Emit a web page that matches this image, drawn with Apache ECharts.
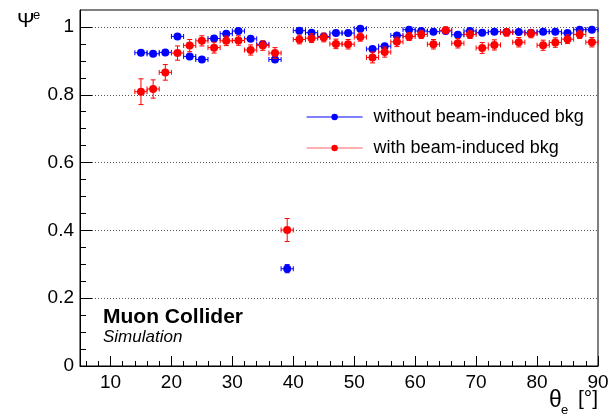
<!DOCTYPE html>
<html>
<head>
<meta charset="utf-8">
<script src="https://cdn.jsdelivr.net/npm/echarts@6/dist/echarts.min.js"></script>
<style>
html,body{margin:0;padding:0;background:#fff;}
#chart{width:609px;height:416px;}
</style>
</head>
<body>
<div id="chart"></div>
<script>
// ---- data ----
const angles = [15,17,19,21,23,25,27,29,31,33,35,37,39,41,43,45,47,49,51,53,55,57,59,61,63,65,67,69,71,73,75,77,79,81,83,85,87,89];
const halfBin = 1;
const effNoBkg = [0.924,0.921,0.925,0.972,0.913,0.904,0.966,0.980,0.988,0.965,0.949,0.904,0.287,0.989,0.983,0.972,0.982,0.982,0.995,0.935,0.943,0.975,0.992,0.988,0.986,0.988,0.977,0.988,0.983,0.986,0.985,0.985,0.983,0.986,0.986,0.982,0.992,0.992];
const errNoBkg = [0.007,0.007,0.007,0.005,0.007,0.007,0.005,0.005,0.004,0.006,0.006,0.007,0.012,0.004,0.005,0.005,0.005,0.005,0.003,0.006,0.006,0.005,0.004,0.004,0.004,0.004,0.005,0.004,0.004,0.004,0.004,0.004,0.004,0.004,0.004,0.004,0.003,0.003];
const effBkg = [0.809,0.817,0.866,0.923,0.945,0.959,0.939,0.959,0.960,0.932,0.945,0.923,0.401,0.963,0.967,0.969,0.950,0.949,0.970,0.910,0.926,0.956,0.972,0.978,0.949,0.990,0.952,0.978,0.938,0.947,0.984,0.955,0.980,0.946,0.954,0.964,0.978,0.955];
const errBkg = [0.038,0.027,0.023,0.021,0.018,0.015,0.016,0.014,0.014,0.015,0.014,0.016,0.034,0.013,0.013,0.013,0.014,0.014,0.012,0.016,0.015,0.014,0.012,0.012,0.014,0.010,0.014,0.012,0.016,0.015,0.011,0.014,0.012,0.015,0.014,0.013,0.012,0.014];
const xMajorTicks = [10,20,30,40,50,60,70,80,90];
const xMinorTicks = [6,8,12,14,16,18,22,24,26,28,32,34,36,38,42,44,46,48,52,54,56,58,62,64,66,68,72,74,76,78,82,84,86,88];
const yMajorTicks = [0,0.2,0.4,0.6,0.8,1.0];
const yMinorTicks = [0.05,0.1,0.15,0.25,0.3,0.35,0.45,0.5,0.55,0.65,0.7,0.75,0.85,0.9,0.95];
const nameNoBkg = 'without beam-induced bkg';
const nameBkg = 'with beam-induced bkg';

const BLUE = '#0000ff';
const RED = '#ff0000';
const FONT = 'Liberation Sans, Arial, Helvetica, sans-serif';

function pts(eff) { return angles.map((a, i) => [a, eff[i]]); }
function errPts(eff, err) { return angles.map((a, i) => [a, eff[i], err[i]]); }

function errRender(color) {
  return function (params, api) {
    const x = api.value(0), y = api.value(1), e = api.value(2);
    const pL = api.coord([x - halfBin, y]);
    const pR = api.coord([x + halfBin, y]);
    const pT = api.coord([x, y + e]);
    const pB = api.coord([x, y - e]);
    const c = 2.5;
    const st = { stroke: color, lineWidth: 1 };
    const ln = (x1, y1, x2, y2) => ({ type: 'line', shape: { x1, y1, x2, y2 }, style: st });
    return {
      type: 'group',
      children: [
        ln(pL[0], pL[1], pR[0], pR[1]),
        ln(pT[0], pT[1], pB[0], pB[1]),
        ln(pL[0], pL[1] - c, pL[0], pL[1] + c),
        ln(pR[0], pR[1] - c, pR[0], pR[1] + c),
        ln(pT[0] - c, pT[1], pT[0] + c, pT[1]),
        ln(pB[0] - c, pB[1], pB[0] + c, pB[1])
      ]
    };
  };
}

const chart = echarts.init(document.getElementById('chart'), null, { renderer: 'canvas' });
const gridRect = { left: 80, right: 11, top: 10, bottom: 50 };

chart.setOption({
  backgroundColor: '#ffffff',
  animation: false,
  textStyle: { fontFamily: FONT },
  grid: Object.assign({ show: true, borderColor: '#000', borderWidth: 1, backgroundColor: 'transparent', containLabel: false, outerBoundsMode: 'none' }, gridRect),
  legend: {
    orient: 'vertical',
    left: 301,
    top: 102,
    itemWidth: 56,
    itemHeight: 8,
    itemGap: 11,
    textStyle: { fontSize: 18, color: '#000', fontFamily: FONT, lineHeight: 20, padding: [0, 0, 0, 6] },
    data: [
      { name: nameNoBkg, lineStyle: { color: BLUE, width: 1.2, opacity: 1 }, itemStyle: { color: BLUE } },
      { name: nameBkg, lineStyle: { color: '#ff6060', width: 1.2, opacity: 1 }, itemStyle: { color: RED } }
    ]
  },
  xAxis: [
    {
      type: 'value', min: 5, max: 90, position: 'bottom',
      axisLine: { show: true, onZero: false, lineStyle: { color: '#000', width: 1 } },
      axisTick: { show: true, inside: true, length: 10, customValues: xMajorTicks, lineStyle: { color: '#000' } },
      axisLabel: { show: true, customValues: xMajorTicks, fontSize: 19, color: '#000', margin: 7, fontFamily: FONT },
      splitLine: { show: false }
    },
    {
      type: 'value', min: 5, max: 90, position: 'bottom',
      axisLine: { show: false },
      axisTick: { show: true, inside: true, length: 5, customValues: xMinorTicks, lineStyle: { color: '#000' } },
      axisLabel: { show: false, customValues: xMinorTicks },
      splitLine: { show: false }
    }
  ],
  yAxis: [
    {
      type: 'value', min: 0, max: 1.05, interval: 0.2, position: 'left',
      axisLine: { show: true, onZero: false, lineStyle: { color: '#000', width: 1 } },
      axisTick: { show: true, inside: true, length: 12, customValues: yMajorTicks, lineStyle: { color: '#000' } },
      axisLabel: { show: true, customValues: yMajorTicks, fontSize: 19, color: '#000', margin: 6, fontFamily: FONT,
        formatter: v => String(Math.round(v * 10) / 10) },
      splitLine: { show: true, lineStyle: { color: '#555', width: 1, type: [1, 2] } }
    },
    {
      type: 'value', min: 0, max: 1.05, position: 'left',
      axisLine: { show: false },
      axisTick: { show: true, inside: true, length: 6, customValues: yMinorTicks, lineStyle: { color: '#000' } },
      axisLabel: { show: false, customValues: yMinorTicks },
      splitLine: { show: false }
    }
  ],
  graphic: [
    { type: 'text', left: 17, top: 11, style: { text: 'Ψ', fontSize: 21, fill: '#000', fontFamily: FONT } },
    { type: 'text', left: 33, top: 9, style: { text: 'e', fontSize: 13, fill: '#000', fontFamily: FONT } },
    { type: 'text', left: 549, top: 389, style: { text: 'θ', fontSize: 23, fill: '#000', fontFamily: FONT } },
    { type: 'text', left: 561, top: 404, style: { text: 'e', fontSize: 13, fill: '#000', fontFamily: FONT } },
    { type: 'text', left: 578, top: 389, style: { text: '[°]', fontSize: 21, fill: '#000', fontFamily: FONT } },
    { type: 'text', left: 103, top: 307, style: { text: 'Muon Collider', fontSize: 21, fontWeight: 'bold', fill: '#000', fontFamily: FONT } },
    { type: 'text', left: 103, top: 329, style: { text: 'Simulation', fontSize: 17, fontStyle: 'italic', fill: '#000', fontFamily: FONT } }
  ],
  series: [
    {
      name: 'errNoBkg', type: 'custom', xAxisIndex: 0, yAxisIndex: 0,
      data: errPts(effNoBkg, errNoBkg), renderItem: errRender(BLUE), z: 3, silent: true
    },
    {
      name: nameNoBkg, type: 'line', xAxisIndex: 0, yAxisIndex: 0, data: pts(effNoBkg),
      symbol: 'circle', symbolSize: 8, showSymbol: true,
      itemStyle: { color: BLUE }, lineStyle: { opacity: 0, width: 0.01, color: BLUE }, z: 4
    },
    {
      name: 'errBkg', type: 'custom', xAxisIndex: 0, yAxisIndex: 0,
      data: errPts(effBkg, errBkg), renderItem: errRender(RED), z: 5, silent: true
    },
    {
      name: nameBkg, type: 'line', xAxisIndex: 0, yAxisIndex: 0, data: pts(effBkg),
      symbol: 'circle', symbolSize: 8, showSymbol: true,
      itemStyle: { color: RED }, lineStyle: { opacity: 0, width: 0.01, color: RED }, z: 6
    }
  ]
});
</script>
</body>
</html>
